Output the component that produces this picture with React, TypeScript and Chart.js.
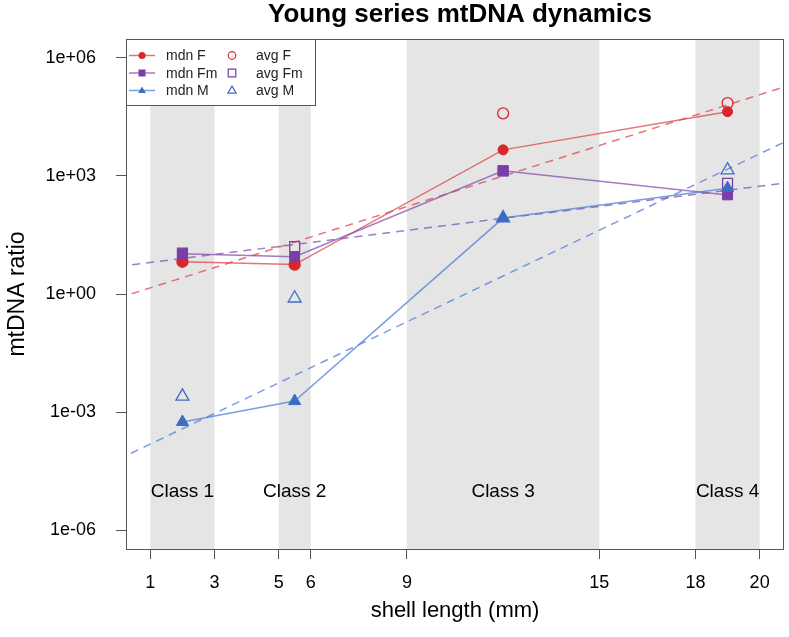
import React, { useEffect, useRef } from 'react';
import { Chart, registerables } from 'chart.js';

Chart.register(...registerables);

// ---- data ----
const classNames = ['Class 1', 'Class 2', 'Class 3', 'Class 4'];
const classStart = [1, 5, 9, 18];
const classEnd = [3, 6, 15, 20];
const classMid = [2, 5.5, 12, 19];
const classLabelY = 1e-5;

const mdnF = [6.6, 5.6, 4600, 43000];
const avgF = [6.6, 5.6, 39000, 71000];
const mdnFm = [10.5, 8.9, 1350, 330];
const avgFm = [11, 16, 1350, 650];
const mdnM = [5.6e-4, 1.9e-3, 85, 490];
const avgM = [2.5e-3, 0.78, 85, 1400];

const trendX = [0, 21];
const trendF = [0.79, 2.1e5];
const trendFm = [5.0, 690];
const trendM = [6.3e-5, 8.9e3];

const xTicks = [1, 3, 5, 6, 9, 15, 18, 20];
const yTicks = [1e-6, 1e-3, 1, 1e3, 1e6];
const yTickLabels = ['1e-06', '1e-03', '1e+00', '1e+03', '1e+06'];

const X_MIN = 0.24;
const X_MAX = 20.76;
const Y_MIN = Math.pow(10, -6.48);
const Y_MAX = Math.pow(10, 6.48);

const FONT = '"Liberation Sans", Arial, Helvetica, sans-serif';
const RED = '#D8262C';
const PURPLE = '#7A3FA6';
const BLUE = '#3D6CC4';
const RED_L = 'rgba(222,70,74,0.75)';
const PURPLE_L = 'rgba(130,80,175,0.75)';
const BLUE_L = 'rgba(80,125,210,0.75)';

const pts = (xs: number[], ys: number[]) => xs.map((x, i) => ({ x, y: ys[i] }));

const legendItems = [
  { label: 'mdn F', color: RED, line: RED_L, style: 'circle', fill: true },
  { label: 'mdn Fm', color: PURPLE, line: PURPLE_L, style: 'rect', fill: true },
  { label: 'mdn M', color: BLUE, line: BLUE_L, style: 'triangle', fill: true },
  { label: 'avg F', color: RED, line: null, style: 'circle', fill: false },
  { label: 'avg Fm', color: PURPLE, line: null, style: 'rect', fill: false },
  { label: 'avg M', color: BLUE, line: null, style: 'triangle', fill: false },
];

function drawMarker(ctx: CanvasRenderingContext2D, style: string, x: number, y: number, r: number, color: string, fill: boolean) {
  ctx.beginPath();
  if (style === 'circle') {
    ctx.arc(x, y, r, 0, Math.PI * 2);
  } else if (style === 'rect') {
    ctx.rect(x - r, y - r, 2 * r, 2 * r);
  } else {
    const h = r * 1.15;
    ctx.moveTo(x, y - h);
    ctx.lineTo(x + h * 0.95, y + h * 0.6);
    ctx.lineTo(x - h * 0.95, y + h * 0.6);
    ctx.closePath();
  }
  if (fill) {
    ctx.fillStyle = color;
    ctx.fill();
  } else {
    ctx.strokeStyle = color;
    ctx.lineWidth = 1.2;
    ctx.stroke();
  }
}

const overlay = {
  id: 'overlay',
  beforeDatasetsDraw(chart: any) {
    const { ctx, chartArea: a, scales } = chart;
    const xs = scales.x;
    const ys = scales.y;
    ctx.save();
    ctx.fillStyle = '#E5E5E5';
    for (let i = 0; i < classStart.length; i++) {
      const x0 = xs.getPixelForValue(classStart[i]);
      const x1 = xs.getPixelForValue(classEnd[i]);
      ctx.fillRect(x0, a.top, x1 - x0, a.bottom - a.top);
    }
    ctx.fillStyle = '#000';
    ctx.font = `19px ${FONT}`;
    ctx.textAlign = 'center';
    ctx.textBaseline = 'middle';
    const ly = ys.getPixelForValue(classLabelY);
    for (let i = 0; i < classNames.length; i++) {
      ctx.fillText(classNames[i], xs.getPixelForValue(classMid[i]), ly + 1);
    }
    ctx.restore();
  },
  afterDraw(chart: any) {
    const { ctx, chartArea: a } = chart;
    ctx.save();
    // frame
    ctx.strokeStyle = '#555';
    ctx.lineWidth = 1;
    ctx.strokeRect(a.left + 0.5, a.top + 0.5, a.right - a.left - 1, a.bottom - a.top);
    // titles
    const cx = (a.left + a.right) / 2;
    ctx.fillStyle = '#000';
    ctx.textAlign = 'center';
    ctx.textBaseline = 'middle';
    ctx.font = `bold 26px ${FONT}`;
    ctx.fillText('Young series mtDNA dynamics', cx + 5, 15);
    ctx.font = `22px ${FONT}`;
    ctx.fillText('shell length (mm)', cx, 611);
    ctx.save();
    ctx.translate(18, (a.top + a.bottom) / 2);
    ctx.rotate(-Math.PI / 2);
    ctx.font = `23px ${FONT}`;
    ctx.fillText('mtDNA ratio', 0, 0);
    ctx.restore();
    // legend
    const lx = a.left;
    const ly = a.top;
    ctx.fillStyle = '#fff';
    ctx.fillRect(lx, ly, 189, 66);
    ctx.strokeStyle = '#555';
    ctx.strokeRect(lx + 0.5, ly + 0.5, 189, 66);
    ctx.font = `14px ${FONT}`;
    ctx.textAlign = 'left';
    for (let i = 0; i < legendItems.length; i++) {
      const it = legendItems[i];
      const col = Math.floor(i / 3);
      const row = i % 3;
      const yy = ly + 16.5 + row * 17.5;
      const mx = col === 0 ? lx + 16 : lx + 106;
      const tx = col === 0 ? lx + 40 : lx + 130;
      if (it.line) {
        ctx.strokeStyle = it.line;
        ctx.lineWidth = 1.5;
        ctx.beginPath();
        ctx.moveTo(mx - 13, yy);
        ctx.lineTo(mx + 13, yy);
        ctx.stroke();
      }
      drawMarker(ctx, it.style, mx, yy, it.fill ? 3.5 : 3.8, it.color, it.fill);
      ctx.fillStyle = '#222';
      ctx.fillText(it.label, tx, yy + 1);
    }
    ctx.restore();
  },
};

export default function App() {
  const ref = useRef<HTMLCanvasElement>(null);
  useEffect(() => {
    if (!ref.current) return;
    const solid = (data: number[], color: string, line: string, style: string, r: number, order: number) => ({
      data: pts(classMid, data),
      showLine: true,
      borderColor: line,
      borderWidth: 1.5,
      pointStyle: style,
      pointRadius: r,
      pointBackgroundColor: color,
      pointBorderColor: color,
      pointBorderWidth: 1,
      order,
    });
    const open = (data: number[], color: string, style: string, r: number, order: number) => ({
      data: pts(classMid, data),
      showLine: false,
      pointStyle: style,
      pointRadius: r,
      pointBackgroundColor: 'rgba(0,0,0,0)',
      pointBorderColor: color,
      pointBorderWidth: 1.3,
      order,
    });
    const dashed = (data: number[], color: string, order: number) => ({
      data: pts(trendX, data),
      showLine: true,
      borderColor: color,
      borderWidth: 1.5,
      borderDash: [8, 6],
      pointRadius: 0,
      clip: 0,
      order,
    });
    const chart = new Chart(ref.current, {
      type: 'scatter',
      data: {
        datasets: [
          dashed(trendF, RED_L, 20),
          dashed(trendFm, PURPLE_L, 21),
          dashed(trendM, BLUE_L, 22),
          solid(mdnF, RED, RED_L, 'circle', 5, 9),
          open(avgF, RED, 'circle', 5.5, 8),
          solid(mdnFm, PURPLE, PURPLE_L, 'rect', 7, 7),
          open(avgFm, PURPLE, 'rect', 7, 6),
          solid(mdnM, BLUE, BLUE_L, 'triangle', 7, 5),
          open(avgM, BLUE, 'triangle', 7.5, 4),
        ] as any,
      },
      options: {
        animation: false,
        responsive: false,
        events: [],
        layout: { autoPadding: false, padding: { left: 0, right: 5, top: 39, bottom: 0 } },
        plugins: { legend: { display: false }, title: { display: false }, tooltip: { enabled: false } },
        scales: {
          x: {
            type: 'linear',
            min: X_MIN,
            max: X_MAX,
            afterBuildTicks: (s: any) => {
              s.ticks = xTicks.map((v) => ({ value: v }));
            },
            afterFit: (s: any) => {
              s.height = 88;
              s.paddingLeft = 0;
              s.paddingRight = 0;
            },
            ticks: {
              autoSkip: false,
              maxRotation: 0,
              padding: 13,
              color: '#000',
              font: { family: FONT, size: 18 },
              callback: (v: any) => String(v),
            },
            grid: { display: true, drawOnChartArea: false, drawTicks: true, tickLength: 10, color: '#555' },
            border: { display: false },
          },
          y: {
            type: 'logarithmic',
            min: Y_MIN,
            max: Y_MAX,
            afterBuildTicks: (s: any) => {
              s.ticks = yTicks.map((v) => ({ value: v }));
            },
            afterFit: (s: any) => {
              s.width = 126;
              s.paddingTop = 0;
              s.paddingBottom = 0;
            },
            ticks: {
              autoSkip: false,
              padding: 20,
              color: '#000',
              font: { family: FONT, size: 18 },
              callback: (_v: any, i: number) => yTickLabels[i],
            },
            grid: { display: true, drawOnChartArea: false, drawTicks: true, tickLength: 10, color: '#555' },
            border: { display: false },
          },
        },
      } as any,
      plugins: [overlay],
    });
    return () => chart.destroy();
  }, []);
  return (
    <div style={{ position: 'absolute', left: 0, top: 0, width: 789, height: 637, background: '#fff' }}>
      <canvas ref={ref} width={789} height={637} style={{ display: 'block' }} />
    </div>
  );
}
